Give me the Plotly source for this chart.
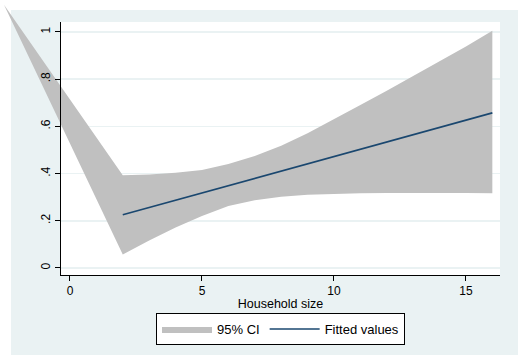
import plotly.graph_objects as go

# ---- data ----
ci_x = [-2.5, 2, 3, 4, 5, 6, 7, 8, 9, 10, 11, 12, 13, 14, 15, 16]
ci_upper = [1.115, 0.393, 0.396, 0.403, 0.415, 0.440, 0.474, 0.518, 0.571, 0.629,
            0.690, 0.751, 0.813, 0.875, 0.938, 1.005]
ci_lower = [1.115, 0.057, 0.116, 0.171, 0.220, 0.262, 0.287, 0.302, 0.310, 0.314,
            0.316, 0.317, 0.318, 0.318, 0.317, 0.316]
fit_x = [2, 4, 6, 8, 10, 12, 14, 16]
fit_y = [0.225, 0.287, 0.348, 0.410, 0.472, 0.534, 0.596, 0.657]
x_ticks = [0, 5, 10, 15]
y_ticks = [0, 0.2, 0.4, 0.6, 0.8, 1]
y_ticklabels = ["0", ".2", ".4", ".6", ".8", "1"]
x_title = "Household size"
ci_name = "95% CI"
fit_name = "Fitted values"

# ---- layout geometry ----
W, H = 518, 355
BG = "#EAF2F3"
x_range = [-0.34, 16.29]
y_range = [-0.03, 1.042]
xd = [61 / W, 500 / W]
yd = [(H - 275) / H, (H - 22) / H]

# full-figure axes with the same scale (so the band is not clipped)
sx = (x_range[1] - x_range[0]) / (xd[1] - xd[0])
x2_range = [x_range[0] - xd[0] * sx, x_range[0] + (1 - xd[0]) * sx]
sy = (y_range[1] - y_range[0]) / (yd[1] - yd[0])
y2_range = [y_range[0] - yd[0] * sy, y_range[0] + (1 - yd[0]) * sy]

FONT = "Liberation Sans, Arial, sans-serif"

fig = go.Figure()
# grid subplot (bottom)
fig.add_trace(go.Scatter(x=[None], y=[None], xaxis="x", yaxis="y",
                         showlegend=False, hoverinfo="skip"))
# data subplot (full figure, unclipped)
poly_x = ci_x + ci_x[::-1]
poly_y = ci_upper + ci_lower[::-1]
fig.add_trace(go.Scatter(x=poly_x, y=poly_y, xaxis="x2", yaxis="y2",
                         fill="toself", fillcolor="rgb(192,192,192)",
                         mode="lines", line=dict(width=0, color="rgb(192,192,192)"),
                         name=ci_name, hoverinfo="skip"))
fig.add_trace(go.Scatter(x=fit_x, y=fit_y, xaxis="x2", yaxis="y2",
                         mode="lines", line=dict(color="#1A476F", width=1.6),
                         name=fit_name))
# axes subplot (top)
fig.add_trace(go.Scatter(x=[None], y=[None], xaxis="x3", yaxis="y3",
                         showlegend=False, hoverinfo="skip"))

fig.update_layout(
    width=W, height=H,
    margin=dict(l=0, r=0, t=0, b=0),
    paper_bgcolor="white",
    plot_bgcolor="rgba(0,0,0,0)",
    font=dict(family=FONT, color="black", size=12),
    hovermode=False,
    shapes=[
        dict(type="rect", xref="paper", yref="paper", x0=11 / W, x1=1,
             y0=0, y1=(H - 10) / H, fillcolor=BG, line=dict(width=0), layer="below"),
        dict(type="rect", xref="paper", yref="paper", x0=xd[0], x1=xd[1],
             y0=yd[0], y1=yd[1], fillcolor="white", line=dict(width=0), layer="below"),
    ],
    xaxis=dict(domain=xd, range=x_range, anchor="y", showgrid=False,
               showticklabels=False, ticks="", showline=False, zeroline=False),
    yaxis=dict(domain=yd, range=y_range, anchor="x", tickvals=y_ticks,
               showgrid=True, gridcolor=BG, gridwidth=1.6,
               showticklabels=False, ticks="", showline=False, zeroline=False),
    xaxis2=dict(domain=[0, 1], range=x2_range, anchor="y2", visible=False),
    yaxis2=dict(domain=[0, 1], range=y2_range, anchor="x2", visible=False),
    xaxis3=dict(domain=xd, range=x_range, anchor="y3", tickvals=x_ticks,
                ticks="outside", ticklen=5, tickcolor="black", tickwidth=1,
                showline=True, linecolor="black", linewidth=1,
                showgrid=False, zeroline=False,
                tickfont=dict(size=12, family=FONT, color="black"),
                title=dict(text=x_title, standoff=1,
                           font=dict(size=12.5, family=FONT, color="black"))),
    yaxis3=dict(domain=yd, range=y_range, anchor="x3", tickvals=y_ticks,
                ticktext=y_ticklabels, tickangle=-90,
                ticks="outside", ticklen=5, tickcolor="black", tickwidth=1,
                showline=True, linecolor="black", linewidth=1,
                showgrid=False, zeroline=False,
                tickfont=dict(size=12, family=FONT, color="black")),
    legend=dict(orientation="h", x=280.5 / W, xanchor="center",
                y=(H - 313) / H, yanchor="top",
                bordercolor="black", borderwidth=1, bgcolor="white",
                font=dict(size=13, family=FONT, color="black"),
                itemwidth=50, traceorder="normal"),
)

fig.write_html("out.html",
               config={"displayModeBar": False, "staticPlot": True},
               post_script="document.body.style.margin='0px';"
                           "document.body.style.overflow='hidden';")
